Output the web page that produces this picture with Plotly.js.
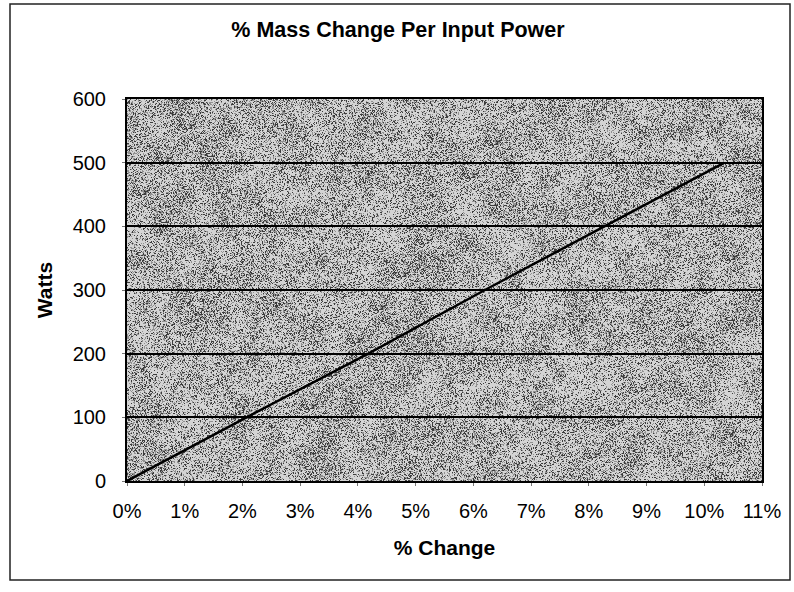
<!DOCTYPE html>
<html>
<head>
<meta charset="utf-8">
<script src="https://cdn.plot.ly/plotly-3.0.1.min.js"></script>
<style>html,body{margin:0;padding:0;background:#fff;}#chart{width:794px;height:592px;}</style>
</head>
<body>
<div id="chart"></div>
<script>
// Data
const percentChange = [0, 2.07, 4.18, 6.2, 8.27, 10.35];   // % change
const watts = [0, 100, 200, 300, 400, 500];                 // input power, W
const xTickValues = [0,1,2,3,4,5,6,7,8,9,10,11];
const xTickLabels = ['0%','1%','2%','3%','4%','5%','6%','7%','8%','9%','10%','11%'];
const yTickValues = [0,100,200,300,400,500,600];

// Speckled grey texture for the plot background (decoration only)
function makeTexture(w, h) {
  const c = document.createElement('canvas');
  c.width = w; c.height = h;
  const ctx = c.getContext('2d');
  const img = ctx.createImageData(w, h);
  let s = 12345;
  function rnd() { s = (s * 1103515245 + 12345) & 0x7fffffff; return s / 0x7fffffff; }
  const gw = 16, gh = 16;
  const gx = Math.ceil(w / gw) + 2, gy = Math.ceil(h / gh) + 2;
  const grid = [];
  for (let i = 0; i < gx * gy; i++) grid.push(rnd());
  function blob(x, y) {
    const fx = x / gw, fy = y / gh;
    const ix = Math.floor(fx), iy = Math.floor(fy);
    const tx = fx - ix, ty = fy - iy;
    const a = grid[iy * gx + ix], b = grid[iy * gx + ix + 1];
    const c2 = grid[(iy + 1) * gx + ix], d = grid[(iy + 1) * gx + ix + 1];
    return (a * (1 - tx) + b * tx) * (1 - ty) + (c2 * (1 - tx) + d * tx) * ty;
  }
  for (let y = 0; y < h; y++) {
    for (let x = 0; x < w; x++) {
      const p = 0.22 + 0.4 * blob(x, y);
      const r = rnd();
      let v;
      if (r < p * 0.45) v = 60;
      else if (r < p) v = 145;
      else v = 212;
      const k = (y * w + x) * 4;
      img.data[k] = v; img.data[k + 1] = v; img.data[k + 2] = v; img.data[k + 3] = 255;
    }
  }
  ctx.putImageData(img, 0, 0);
  return c.toDataURL('image/png');
}

const L = 127, R = 762, T = 99, B = 481;
const W = 794, H = 592;
const pw = R - L, ph = B - T;

const trace = {
  x: percentChange,
  y: watts,
  type: 'scatter',
  mode: 'lines',
  line: {color: '#000000', width: 2.5},
  hoverinfo: 'x+y',
  showlegend: false
};

const font = 'Liberation Sans, Arial, Helvetica, sans-serif';

const layout = {
  width: W, height: H,
  margin: {l: L, r: W - R, t: T, b: H - B, pad: 0},
  paper_bgcolor: '#ffffff',
  plot_bgcolor: '#b4b4b4',
  font: {family: font, color: '#000000'},
  title: {
    text: '<b>% Mass Change Per Input Power</b>',
    font: {family: font, size: 21.5, color: '#000000'},
    x: 398 / W, xref: 'container', xanchor: 'center',
    y: 1 - 29 / H, yref: 'container', yanchor: 'middle'
  },
  xaxis: {
    range: [0, 11],
    tickvals: xTickValues,
    ticktext: xTickLabels,
    showgrid: false,
    zeroline: false,
    showline: true, linecolor: '#000000', linewidth: 2, mirror: true,
    ticks: 'outside', ticklen: 3, tickcolor: '#777777', tickwidth: 1,
    ticklabelstandoff: 8,
    tickfont: {family: font, size: 20, color: '#000000'},
    title: {text: '<b>% Change</b>', font: {family: font, size: 21, color: '#000000'}, standoff: 19},
    automargin: false,
    fixedrange: true
  },
  yaxis: {
    range: [0, 600],
    tickvals: yTickValues,
    showgrid: true, gridcolor: '#000000', gridwidth: 1.5,
    zeroline: false,
    showline: true, linecolor: '#000000', linewidth: 2, mirror: true,
    ticks: 'outside', ticklen: 3, tickcolor: '#777777', tickwidth: 1,
    ticklabelstandoff: 12,
    tickfont: {family: font, size: 20, color: '#000000'},
    title: {text: '<b>Watts</b>', font: {family: font, size: 21, color: '#000000'}, standoff: 14},
    automargin: false,
    fixedrange: true
  },
  images: [{
    source: makeTexture(pw, ph),
    xref: 'paper', yref: 'paper',
    x: 0, y: 1, sizex: 1, sizey: 1,
    xanchor: 'left', yanchor: 'top',
    sizing: 'stretch', layer: 'below'
  }],
  shapes: [{
    type: 'rect', xref: 'paper', yref: 'paper',
    x0: (10 - L) / pw, x1: (790 - L) / pw,
    y0: (B - 580) / ph, y1: (B - 4) / ph,
    line: {color: '#222222', width: 1.5},
    fillcolor: 'rgba(0,0,0,0)',
    layer: 'above'
  }]
};

Plotly.newPlot('chart', [trace], layout, {displayModeBar: false, staticPlot: false});
</script>
</body>
</html>
